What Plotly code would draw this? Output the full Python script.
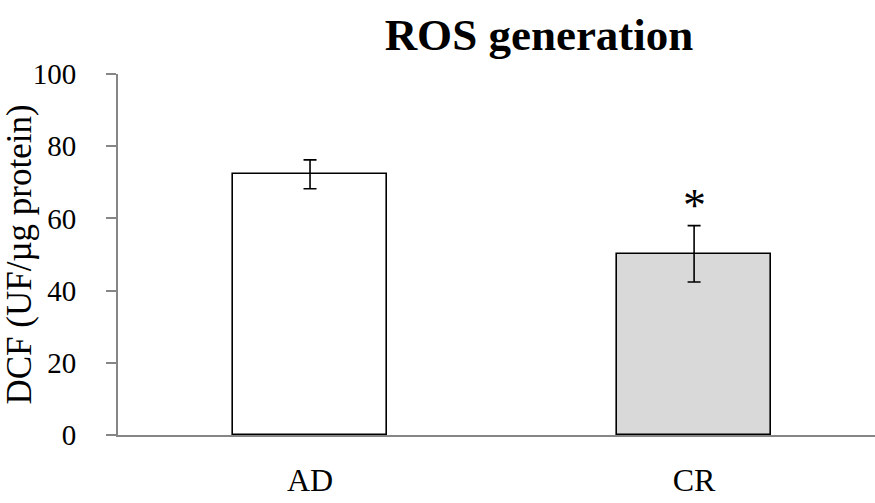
import plotly.graph_objects as go

categories = ["AD", "CR"]
values = [72.2, 50.2]
errors = [4.0, 7.8]
fills = ["#ffffff", "#d9d9d9"]
sig_marks = ["", "*"]
y_ticks = [0, 20, 40, 60, 80, 100]

FONT = "Liberation Serif, Times New Roman, serif"

fig = go.Figure()
fig.add_trace(go.Bar(
    x=categories, y=values, width=0.40,
    marker=dict(color=fills, line=dict(color="#000000", width=1.6)),
    error_y=dict(type="data", array=errors, visible=True, color="#000000",
                 thickness=1.6, width=6.5),
    showlegend=False,
))

for c, v, e, s in zip(categories, values, errors, sig_marks):
    if s:
        fig.add_annotation(x=c, y=v + e, text=s, showarrow=False,
                           yanchor="bottom", yshift=-7,
                           font=dict(family=FONT, size=46, color="#000000"))

fig.update_layout(
    width=875, height=503,
    margin=dict(l=118, r=0, t=74, b=68),
    paper_bgcolor="#ffffff", plot_bgcolor="#ffffff",
    font=dict(family=FONT, color="#000000"),
    title=dict(text="<b>ROS generation</b>", x=0.616, xanchor="center",
               y=0.964, yanchor="top",
               font=dict(family=FONT, size=45, color="#000000")),
    bargap=0,
)
fig.update_xaxes(
    range=[-0.5, 1.471], showline=True, linecolor="#868686", linewidth=2,
    ticks="", showgrid=False, zeroline=False, automargin=False,
    tickfont=dict(family=FONT, size=32, color="#000000"),
    ticklabelstandoff=16,
)
fig.update_yaxes(
    range=[0, 100], tickvals=y_ticks, showline=True, linecolor="#868686",
    linewidth=2, ticks="outside", ticklen=10, tickwidth=2, tickcolor="#868686",
    showgrid=False, zeroline=False, automargin=False,
    tickfont=dict(family=FONT, size=29, color="#000000"),
    ticklabelstandoff=24,
    title=dict(text="DCF (UF/µg protein)", standoff=8,
               font=dict(family=FONT, size=35, color="#000000")),
)

fig.write_html("out.html")
